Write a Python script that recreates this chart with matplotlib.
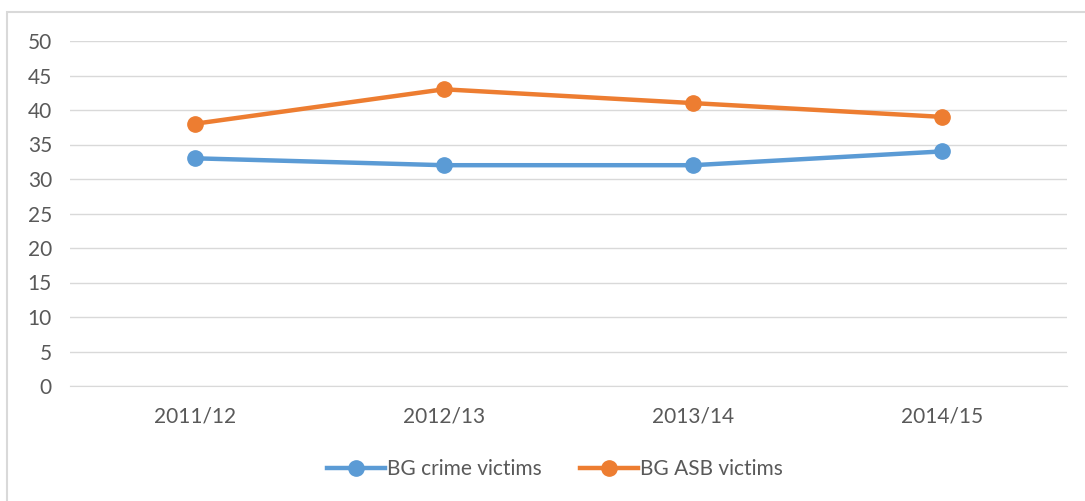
import matplotlib.pyplot as plt
from matplotlib.patches import Rectangle

years = ['2011/12', '2012/13', '2013/14', '2014/15']
crime_victims = [33, 32, 32, 34]
asb_victims = [38, 43, 41, 39]

blue = '#5B9BD5'
orange = '#ED7D31'
grey_txt = '#595959'

plt.rcParams['font.family'] = ['Lato', 'DejaVu Sans']

fig = plt.figure(figsize=(10.85, 5.01), dpi=100)
# outer chart border
fig.patches.append(Rectangle((7 / 1085, -0.01), 1.1, 1 - 12 / 501 + 0.01,
                             transform=fig.transFigure, fill=False,
                             edgecolor='#D9D9D9', linewidth=1.5))

ax = fig.add_axes([70 / 1085, 1 - 386 / 501, (1067 - 70) / 1085, (386 - 41) / 501])
x = range(len(years))
ax.plot(x, crime_victims, color=blue, linewidth=3.2, marker='o', markersize=11,
        label='BG crime victims')
ax.plot(x, asb_victims, color=orange, linewidth=3.2, marker='o', markersize=11,
        label='BG ASB victims')

ax.set_xlim(-0.5, 3.5)
ax.set_ylim(0, 50)
ax.set_yticks(range(0, 51, 5))
ax.set_xticks(list(x))
ax.set_xticklabels(years)
ax.grid(axis='y', color='#D9D9D9', linewidth=1)
ax.set_axisbelow(True)
for s in ax.spines.values():
    s.set_visible(False)
ax.spines['bottom'].set_visible(True)
ax.spines['bottom'].set_color('#D9D9D9')
ax.tick_params(length=0, labelsize=15, colors=grey_txt)
ax.tick_params(axis='x', pad=15)
ax.tick_params(axis='y', pad=13)

ax.legend(loc='center', bbox_to_anchor=(555 / 1085, 1 - 469 / 501),
          bbox_transform=fig.transFigure, ncol=2, frameon=False,
          fontsize=15, labelcolor=grey_txt, handlelength=2.8,
          handletextpad=0.1, columnspacing=1.8)

fig.savefig('out.png', dpi=100)
